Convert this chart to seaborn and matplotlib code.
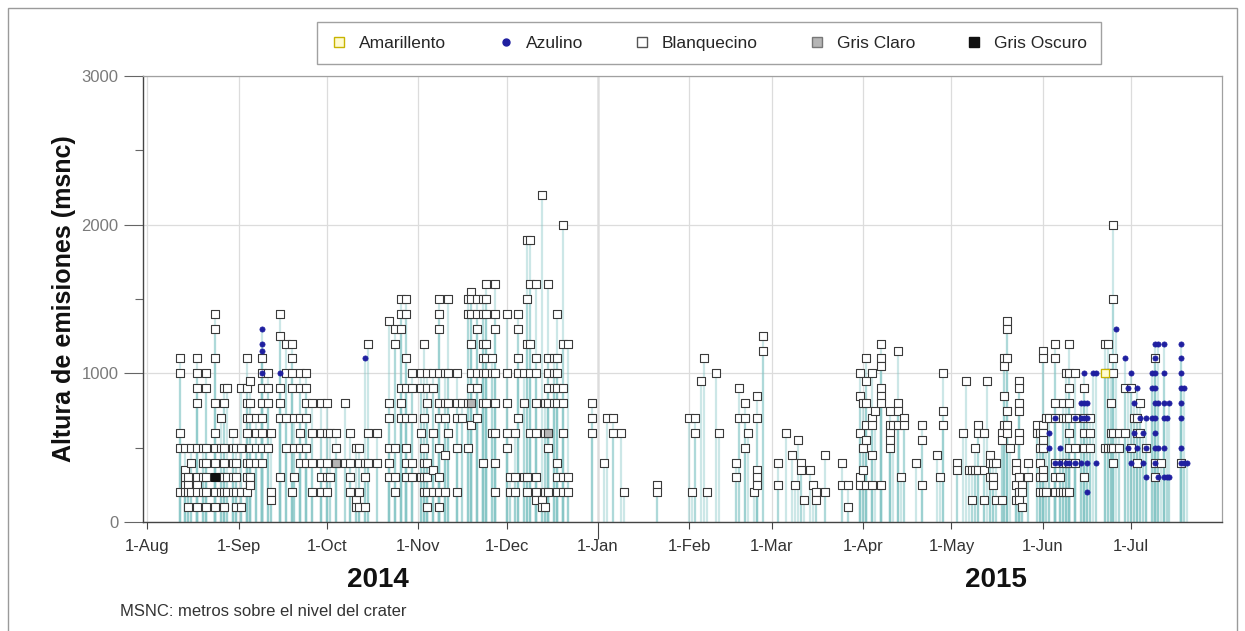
import matplotlib
matplotlib.use("Agg")
import pandas as pd
import matplotlib.pyplot as plt
import matplotlib.dates as mdates
from matplotlib.lines import Line2D
from matplotlib.patches import Rectangle
from matplotlib.ticker import MultipleLocator
import seaborn as sns

# Emission heights (m above crater) per day of month, by colour of the plume
blanq_2014_08 = {12: [1100, 1000, 600, 500, 200], 14: [500, 350, 250, 200, 300],
                 15: [300, 250, 200, 100], 16: [500, 400, 200],
                 18: [1100, 1000, 900, 800, 500, 300, 250, 200, 100], 20: [500, 400, 300, 200],
                 21: [1000, 900, 500, 400, 300, 200, 100],
                 24: [1400, 1300, 1100, 800, 600, 500, 400, 200, 100], 26: [700, 500, 300, 200],
                 27: [900, 800, 500, 400, 300, 200, 100], 28: [900, 300, 200],
                 30: [600, 500, 400, 300, 200], 31: [500, 400, 300, 200, 100]}
blanq_2014_09 = {2: [900, 500, 200, 100], 4: [1100, 900, 800, 700, 600, 400, 300, 200],
                 5: [950, 800, 700, 500, 400, 300, 250], 7: [700, 600, 500, 400],
                 9: [1100, 1000, 900, 800, 700, 600, 500, 400], 11: [1000, 900, 800, 500],
                 12: [600, 200, 150], 15: [1400, 1250, 900, 800, 700, 300],
                 17: [1200, 1000, 700, 500], 19: [1200, 1100, 1000, 900, 200], 20: [700, 500, 300],
                 22: [1000, 900, 700, 600, 500, 400], 24: [1000, 900, 800, 700, 500, 400],
                 26: [800, 600, 400, 200], 29: [800, 600, 400, 300, 200]}
blanq_2014_10 = {1: [800, 600, 400, 300, 200], 2: [600, 300], 4: [600, 500, 400], 7: [800, 400],
                 9: [600, 400, 300, 200], 11: [500, 150, 100], 12: [500, 400, 200, 100],
                 14: [400, 300, 100], 15: [1200, 600, 400], 18: [600, 400],
                 22: [1350, 800, 700, 500, 400, 300], 24: [1300, 1200, 500, 300, 200],
                 26: [1500, 1400, 1300, 900, 800, 700], 28: [1500, 1400, 1100, 900, 700, 500, 400, 300],
                 30: [1000, 900, 700, 400, 300]}
blanq_2014_11 = {2: [1000, 900, 600, 300], 3: [1200, 700, 500, 400, 300, 200],
                 4: [1000, 900, 800, 400, 300, 200, 100], 6: [1000, 900, 600, 350, 200],
                 8: [1500, 1400, 1300, 1000, 800, 700, 500, 300, 200, 100],
                 10: [1000, 800, 700, 450, 200], 11: [1500, 1000, 800, 600],
                 14: [1000, 800, 700, 500, 200], 16: [800, 700], 18: [1500, 1400, 800, 500],
                 19: [1550, 1500, 1400, 1200, 1000, 900, 650], 21: [1500, 1400, 1300, 1000, 900, 700],
                 23: [1500, 1400, 1200, 1100, 1000, 800, 400],
                 24: [1600, 1500, 1400, 1200, 1100, 1000, 800], 26: [1100, 1000, 600],
                 27: [1600, 1400, 1300, 1000, 800, 600, 400, 200]}
blanq_2014_12 = {1: [1400, 1000, 800, 600, 500], 2: [300, 200], 4: [600, 300, 200],
                 5: [1400, 1300, 1100, 1000, 700], 7: [1000, 800, 300],
                 8: [1900, 1500, 1200, 300, 200], 9: [1900, 1600, 1200, 1000, 600],
                 11: [1600, 1100, 1000, 800, 600, 300, 200, 150], 13: [2200, 150, 100],
                 14: [800, 600, 200, 100], 15: [1600, 1100, 1000, 900, 800, 600, 500, 200],
                 17: [1100, 1000, 900, 800], 18: [1400, 1100, 1000, 900, 800, 400, 300, 200],
                 20: [2000, 1200, 900, 800, 600, 300, 200], 22: [1200, 300, 200], 30: [800, 700, 600]}
blanq_2015_01 = {3: [400], 4: [700], 6: [700, 600], 9: [600], 10: [200], 21: [250, 200]}
blanq_2015_02 = {1: [700], 2: [200], 3: [700, 600], 5: [950], 6: [1100], 7: [200], 10: [1000],
                 11: [600], 17: [400, 300], 18: [900, 700], 20: [800, 700, 500], 21: [600],
                 23: [200], 24: [850, 700, 350, 300, 250], 26: [1250, 1150]}
blanq_2015_03 = {3: [400, 250], 6: [600], 8: [450], 9: [250], 10: [550], 11: [400, 350],
                 12: [150], 14: [350], 15: [250], 16: [200, 150], 19: [450, 200], 25: [400, 250],
                 27: [250, 100], 31: [1000, 850, 600, 300, 250]}
blanq_2015_04 = {1: [800, 500, 350], 2: [1100, 950, 800, 650, 550, 250],
                 4: [1000, 700, 650, 450, 250], 5: [750],
                 7: [1200, 1100, 1050, 900, 850, 800, 250], 10: [750, 650, 600, 550, 500],
                 11: [650], 13: [1150, 800, 750, 650], 14: [300], 15: [700, 650], 19: [400],
                 21: [650, 550, 250], 26: [450], 27: [300], 28: [1000, 750, 650]}
blanq_2015_05 = {3: [400, 350], 5: [600], 6: [950], 7: [350], 8: [350, 150], 9: [500, 350],
                 10: [650, 600, 350], 12: [600, 350, 150], 13: [950], 14: [450, 400, 300],
                 15: [400, 300, 250], 16: [400, 150], 18: [600, 550, 150],
                 19: [1100, 1050, 850, 650], 20: [1350, 1300, 1100, 750, 650, 600], 21: [500],
                 23: [400, 350, 250, 150], 24: [950, 900, 800, 750, 600, 550, 300, 200, 150],
                 25: [250, 200, 100], 27: [400, 300], 30: [650, 600], 31: [600, 500, 400, 300, 200]}
blanq_2015_06 = {1: [1150, 1100, 650, 600, 550, 500, 350, 300, 200], 2: [700, 200], 3: [700],
                 5: [1200, 1100, 800, 700, 400, 300, 200], 7: [300, 200], 8: [800, 700, 400, 200],
                 9: [1000, 700, 400, 200], 10: [1200, 1000, 900, 800, 700, 600, 500, 400, 200],
                 12: [1000, 700, 500, 400], 15: [900, 700, 600, 500, 300], 17: [700, 600, 500],
                 22: [1200, 1000, 500], 23: [1200, 1000, 500], 24: [1000, 800, 600, 500],
                 25: [2000, 1500, 1100, 1000, 600, 500, 400], 27: [600, 500], 29: [900, 600]}
blanq_2015_07 = {1: [900, 500], 2: [700], 3: [700, 600, 400], 4: [800, 600], 6: [500],
                 9: [1100, 400, 300], 11: [400], 18: [400]}

azul_2014_09 = {9: [1300, 1200, 1150, 1000], 15: [1000]}
azul_2014_10 = {14: [1100]}
azul_2015_06 = {3: [600, 500], 5: [700, 400], 7: [500, 400], 9: [400], 10: [400], 12: [700, 400],
                14: [800, 700, 400], 15: [1000, 800, 700], 16: [800, 700, 400, 200], 18: [1000],
                19: [1000, 400], 26: [1300], 29: [1100], 30: [900, 500]}
azul_2015_07 = {1: [1000, 400], 2: [800, 600], 3: [900, 500], 4: [700], 5: [600, 400],
                6: [700, 500, 300], 8: [1000, 900, 700],
                9: [1200, 1100, 1000, 900, 800, 700, 600, 500, 400], 10: [1200, 800, 500, 300],
                12: [1200, 1000, 800, 700, 500, 300], 13: [700, 300], 14: [800, 300],
                18: [1200, 1100, 1000, 900, 800, 700, 500, 400], 19: [900, 400], 20: [400]}

gris_claro_2014 = {(10, 4): [400], (11, 19): [800], (12, 15): [600]}
gris_oscuro_2014 = {(8, 24): [300]}
amarillo_2015 = {(6, 22): [1000]}

categories = ["Amarillento", "Azulino", "Blanquecino", "Gris Claro", "Gris Oscuro"]

rows = []


def add_month(year, month, table, cat):
    for day, vals in table.items():
        for v in vals:
            rows.append((pd.Timestamp(year, month, day), v, cat))


def add_mixed(year, table, cat):
    for (month, day), vals in table.items():
        for v in vals:
            rows.append((pd.Timestamp(year, month, day), v, cat))


for (y, m), t in {(2014, 8): blanq_2014_08, (2014, 9): blanq_2014_09, (2014, 10): blanq_2014_10,
                  (2014, 11): blanq_2014_11, (2014, 12): blanq_2014_12, (2015, 1): blanq_2015_01,
                  (2015, 2): blanq_2015_02, (2015, 3): blanq_2015_03, (2015, 4): blanq_2015_04,
                  (2015, 5): blanq_2015_05, (2015, 6): blanq_2015_06,
                  (2015, 7): blanq_2015_07}.items():
    add_month(y, m, t, "Blanquecino")
add_month(2014, 9, azul_2014_09, "Azulino")
add_month(2014, 10, azul_2014_10, "Azulino")
add_month(2015, 6, azul_2015_06, "Azulino")
add_month(2015, 7, azul_2015_07, "Azulino")
add_mixed(2014, gris_claro_2014, "Gris Claro")
add_mixed(2014, gris_oscuro_2014, "Gris Oscuro")
add_mixed(2015, amarillo_2015, "Amarillento")

df = pd.DataFrame(rows, columns=["fecha", "altura", "color"])

sns.set_theme(style="white")
plt.rcParams["font.family"] = ["Liberation Sans", "DejaVu Sans"]

fig = plt.figure(figsize=(12.45, 6.31), dpi=100)
ax = fig.add_axes([143 / 1245, 1 - 522 / 631, (1222 - 143) / 1245, (522 - 76) / 631])

# stems from the ground to each observation
ax.vlines(df["fecha"], 0, df["altura"], color="#86c6c6", alpha=0.42, lw=1.6, zorder=1)

styles = {
    "Blanquecino": dict(marker="s", facecolor="white", edgecolor="#3a3a3a", s=30, linewidth=0.8),
    "Gris Claro": dict(marker="s", facecolor="#b5b5b5", edgecolor="#3a3a3a", s=30, linewidth=0.8),
    "Gris Oscuro": dict(marker="s", facecolor="#111111", edgecolor="#111111", s=30, linewidth=0.8),
    "Amarillento": dict(marker="s", facecolor="#fffbd0", edgecolor="#c8b400", s=30, linewidth=0.9),
    "Azulino": dict(marker="o", facecolor="#1f1fa0", edgecolor="#1f1fa0", s=14, linewidth=0.5),
}
for cat in ["Blanquecino", "Gris Claro", "Gris Oscuro", "Amarillento", "Azulino"]:
    sub = df[df["color"] == cat]
    st = styles[cat]
    sns.scatterplot(data=sub, x="fecha", y="altura", ax=ax, marker=st["marker"], s=st["s"],
                    facecolor=st["facecolor"], edgecolor=st["edgecolor"],
                    linewidth=st["linewidth"], legend=False, zorder=3)

ax.set_xlim(pd.Timestamp("2014-07-30 14:00"), pd.Timestamp("2015-07-31 20:00"))
ax.set_ylim(0, 3000)
ax.set_yticks([0, 1000, 2000, 3000])
ax.yaxis.set_minor_locator(MultipleLocator(500))
ax.xaxis.set_major_locator(mdates.MonthLocator())
ax.xaxis.set_major_formatter(mdates.DateFormatter("%-d-%b"))
ax.grid(True, which="major", color="#dcdcdc", lw=0.9, zorder=0)
ax.axvline(pd.Timestamp("2015-01-01"), color="#8a8a8a", lw=1.0, zorder=0.5)

ax.tick_params(axis="x", which="major", direction="out", length=5, width=0.8, color="#444",
               labelsize=12, labelcolor="#333", pad=7, bottom=True)
ax.tick_params(axis="y", which="major", direction="out", length=14, width=0.8, color="#666",
               labelsize=12, labelcolor="#7a7a7a", pad=3.5, left=True)
ax.tick_params(axis="y", which="minor", direction="out", length=6, width=0.8, color="#666",
               left=True)
# the turn of the year gets a longer tick
fig.canvas.draw()
for tick, lab in zip(ax.xaxis.get_major_ticks(), ax.get_xticklabels()):
    if lab.get_text() == "1-Jan":
        tick.tick1line.set_markersize(12)

ax.set_xlabel("")
ax.set_ylabel("Altura de emisiones (msnc)", fontsize=18, fontweight="bold", color="#111",
              labelpad=4)
for side in ["left", "bottom"]:
    ax.spines[side].set_color("#444")
    ax.spines[side].set_linewidth(1.0)
for side in ["top", "right"]:
    ax.spines[side].set_color("#a0a0a0")
    ax.spines[side].set_linewidth(0.9)

fig.text(378 / 1245, 1 - 580 / 631, "2014", ha="center", va="center", fontsize=20,
         fontweight="bold", color="#111")
fig.text(996 / 1245, 1 - 580 / 631, "2015", ha="center", va="center", fontsize=20,
         fontweight="bold", color="#111")
fig.text(120 / 1245, 1 - 612 / 631, "MSNC: metros sobre el nivel del crater", ha="left",
         va="center", fontsize=12, color="#333")

handles = [
    Line2D([], [], ls="none", marker="s", markersize=7, markerfacecolor="#fffbd0",
           markeredgecolor="#c8b400"),
    Line2D([], [], ls="none", marker="o", markersize=5, markerfacecolor="#1f1fa0",
           markeredgecolor="#1f1fa0"),
    Line2D([], [], ls="none", marker="s", markersize=7, markerfacecolor="white",
           markeredgecolor="#555"),
    Line2D([], [], ls="none", marker="s", markersize=7, markerfacecolor="#b5b5b5",
           markeredgecolor="#777"),
    Line2D([], [], ls="none", marker="s", markersize=7, markerfacecolor="#111",
           markeredgecolor="#111"),
]
leg = fig.legend(handles, categories, loc="center", bbox_to_anchor=(709 / 1245, 1 - 43 / 631),
                 ncol=5, fontsize=12.5, frameon=True, fancybox=False, shadow=False,
                 columnspacing=2.9, handletextpad=0.65, borderpad=0.8, handlelength=1.0)
leg.get_frame().set_edgecolor("#8a8a8a")
leg.get_frame().set_linewidth(1.0)

fig.add_artist(Rectangle((8 / 1245, -0.01), (1237 - 8) / 1245, 1 - 8 / 631 + 0.01,
                         transform=fig.transFigure, fill=False, edgecolor="#9a9a9a", lw=1.0))

fig.savefig("out.png", dpi=100)
